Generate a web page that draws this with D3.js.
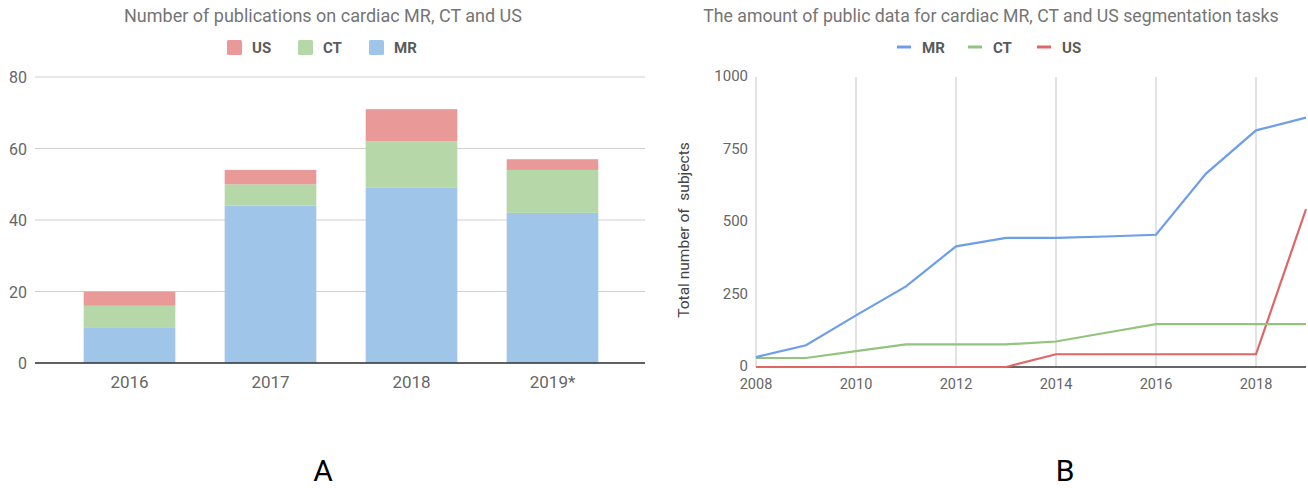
<!DOCTYPE html>
<html>
<head>
<meta charset="utf-8">
<script src="https://cdn.jsdelivr.net/npm/d3@7"></script>
<style>
  body { margin: 0; background: #fff; }
  svg text { font-family: Roboto, "Noto Sans", sans-serif; }
</style>
</head>
<body>
<svg id="chart" width="1308" height="488"></svg>
<script>

// ---- data, panel A (publications) ----
var pub_years = ["2016", "2017", "2018", "2019*"];
var pub_mr = [10, 44, 49, 42];
var pub_ct = [6, 6, 13, 12];
var pub_us = [4, 4, 9, 3];
var pub_ticks = [0, 20, 40, 60, 80];

// ---- data, panel B (public data) ----
var data_years = [2008, 2009, 2010, 2011, 2012, 2013, 2014, 2015, 2016, 2017, 2018, 2019];
var data_mr = [34, 75, 178, 278, 416, 445, 445, 450, 456, 667, 816, 860];
var data_ct = [31, 31, 55, 78, 78, 78, 88, 118, 148, 148, 148, 148];
var data_us = [0, 0, 0, 0, 0, 0, 44, 44, 44, 44, 44, 544];
var data_yticks = [0, 250, 500, 750, 1000];
var data_xticks = [2008, 2010, 2012, 2014, 2016, 2018];

var svg = d3.select("#chart");

// =========== panel A ===========
var a_g = svg.append("g").attr("id", "panel_a");

a_g.append("text")
  .attr("x", 323).attr("y", 22)
  .attr("text-anchor", "middle")
  .attr("font-size", 18)
  .attr("fill", "#757575")
  .text("Number of publications on cardiac MR, CT and US");

var a_x = d3.scaleBand().domain(pub_years).range([59, 623]).paddingInner(0.35).paddingOuter(0.175);
var a_y = d3.scaleLinear().domain([0, 80]).range([363, 77]);

// gridlines
a_g.selectAll(".grid").data(pub_ticks).enter().append("line")
  .attr("x1", 35).attr("x2", 645)
  .attr("y1", function(d) { return a_y(d); })
  .attr("y2", function(d) { return a_y(d); })
  .attr("stroke", "#d0d0d0");

a_g.selectAll(".ytick").data(pub_ticks).enter().append("text")
  .attr("x", 27)
  .attr("y", function(d) { return a_y(d) + 6; })
  .attr("text-anchor", "end")
  .attr("font-size", 16)
  .attr("fill", "#666")
  .text(function(d) { return d; });

// stacked bars
var a_rows = pub_years.map(function(y, i) {
  return {year: y, MR: pub_mr[i], CT: pub_ct[i], US: pub_us[i]};
});
var a_stack = d3.stack().keys(["MR", "CT", "US"])(a_rows);
var a_colors = {MR: "#9fc5e8", CT: "#b6d7a8", US: "#ea9999"};

a_g.selectAll(".layer").data(a_stack).enter().append("g")
  .attr("fill", function(d) { return a_colors[d.key]; })
  .selectAll("rect").data(function(d) { return d; }).enter().append("rect")
  .attr("x", function(d) { return a_x(d.data.year); })
  .attr("width", a_x.bandwidth())
  .attr("y", function(d) { return a_y(d[1]); })
  .attr("height", function(d) { return a_y(d[0]) - a_y(d[1]); });

// baseline
a_g.append("line")
  .attr("x1", 35).attr("x2", 645)
  .attr("y1", a_y(0)).attr("y2", a_y(0))
  .attr("stroke", "#333").attr("stroke-width", 1.5);

a_g.selectAll(".xtick").data(pub_years).enter().append("text")
  .attr("x", function(d) { return a_x(d) + a_x.bandwidth() / 2; })
  .attr("y", 388)
  .attr("text-anchor", "middle")
  .attr("font-size", 17)
  .attr("fill", "#666")
  .text(function(d) { return d; });

// legend
var a_leg = [{k: "US", x: 227}, {k: "CT", x: 298}, {k: "MR", x: 369}];
var a_lg = a_g.selectAll(".leg").data(a_leg).enter().append("g")
  .attr("transform", function(d) { return "translate(" + d.x + ",40)"; });
a_lg.append("rect").attr("width", 15).attr("height", 15).attr("rx", 1.5)
  .attr("fill", function(d) { return a_colors[d.k]; });
a_lg.append("text").attr("x", 25).attr("y", 13)
  .attr("font-size", 15).attr("font-weight", "bold").attr("fill", "#5a5a5a")
  .text(function(d) { return d.k; });

// =========== panel B ===========
var b_g = svg.append("g").attr("id", "panel_b");

b_g.append("text")
  .attr("x", 991).attr("y", 22)
  .attr("text-anchor", "middle")
  .attr("font-size", 17.7)
  .attr("fill", "#757575")
  .text("The amount of public data for cardiac MR, CT and US segmentation tasks");

var b_x = d3.scaleLinear().domain([2008, 2019]).range([756, 1306]);
var b_y = d3.scaleLinear().domain([0, 1000]).range([367, 77]);

b_g.selectAll(".vgrid").data(data_xticks).enter().append("line")
  .attr("x1", function(d) { return b_x(d); })
  .attr("x2", function(d) { return b_x(d); })
  .attr("y1", b_y(1000)).attr("y2", b_y(0))
  .attr("stroke", "#dadada").attr("stroke-width", 1.5);

b_g.selectAll(".ytick").data(data_yticks).enter().append("text")
  .attr("x", 748)
  .attr("y", function(d) { return b_y(d) + 4; })
  .attr("text-anchor", "end")
  .attr("font-size", 15)
  .attr("fill", "#666")
  .text(function(d) { return d; });

b_g.selectAll(".xtick").data(data_xticks).enter().append("text")
  .attr("x", function(d) { return b_x(d); })
  .attr("y", 389)
  .attr("text-anchor", "middle")
  .attr("font-size", 14.5)
  .attr("fill", "#666")
  .text(function(d) { return d; });

b_g.append("text")
  .attr("transform", "translate(689,230) rotate(-90)")
  .attr("text-anchor", "middle")
  .attr("font-size", 15.5)
  .attr("fill", "#444")
  .attr("xml:space", "preserve")
  .text("Total number of  subjects");

var b_line = d3.line()
  .x(function(d, i) { return b_x(data_years[i]); })
  .y(function(d) { return b_y(d); });

var b_series = [
  {k: "US", v: data_us, c: "#e06666"},
  {k: "CT", v: data_ct, c: "#93c47d"},
  {k: "MR", v: data_mr, c: "#6d9eeb"}
];

b_g.append("line")
  .attr("x1", 756).attr("x2", 1306)
  .attr("y1", b_y(0)).attr("y2", b_y(0))
  .attr("stroke", "#333").attr("stroke-width", 1.5);

b_g.selectAll(".series").data(b_series).enter().append("path")
  .attr("d", function(d) { return b_line(d.v); })
  .attr("fill", "none")
  .attr("stroke", function(d) { return d.c; })
  .attr("stroke-width", 2.2);

// legend
var b_leg = [{k: "MR", x: 897, c: "#6d9eeb"}, {k: "CT", x: 968, c: "#93c47d"}, {k: "US", x: 1037, c: "#e06666"}];
var b_lg = b_g.selectAll(".leg").data(b_leg).enter().append("g")
  .attr("transform", function(d) { return "translate(" + d.x + ",47)"; });
b_lg.append("line").attr("x1", 0).attr("x2", 14).attr("y1", 0).attr("y2", 0)
  .attr("stroke", function(d) { return d.c; }).attr("stroke-width", 3);
b_lg.append("text").attr("x", 25).attr("y", 5.5)
  .attr("font-size", 15).attr("font-weight", "bold").attr("fill", "#5a5a5a")
  .text(function(d) { return d.k; });

// panel letters
svg.append("text").attr("x", 323).attr("y", 481).attr("text-anchor", "middle")
  .attr("font-size", 30).attr("font-family", "Liberation Sans, Arial, sans-serif")
  .attr("fill", "#000").text("A");
svg.append("text").attr("x", 1065).attr("y", 481).attr("text-anchor", "middle")
  .attr("font-size", 30).attr("font-family", "Liberation Sans, Arial, sans-serif")
  .attr("fill", "#000").text("B");

</script>
</body>
</html>
